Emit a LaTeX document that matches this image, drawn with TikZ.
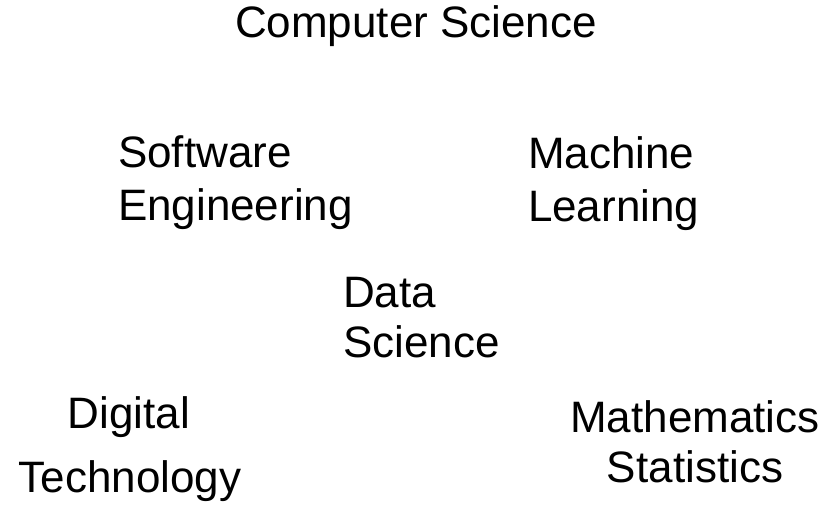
\documentclass[tikz,border=0pt]{standalone}
\usepackage{fontspec}
\setmainfont{Liberation Sans}
\begin{document}
\begin{tikzpicture}[x=1pt,y=-1pt,
  lbl/.style={inner sep=0pt,outer sep=0pt,font=\fontsize{44}{52}\selectfont,text=black}]
\useasboundingbox[fill=white] (0,0) rectangle (833,505);
\node[lbl,anchor=base] (cs) at (416,38) {Computer Science};
\node[lbl,anchor=base west] (se1) at (118,168) {Software};
\node[lbl,anchor=base west] (se2) at (118,221) {Engineering};
\node[lbl,anchor=base west] (ml1) at (528,169) {Machine};
\node[lbl,anchor=base west] (ml2) at (528,222) {Learning};
\node[lbl,anchor=base west] (ds1) at (343,307) {Data};
\node[lbl,anchor=base west] (ds2) at (343,357) {Science};
\node[lbl,anchor=base] (dt1) at (129,428) {Digital};
\node[lbl,anchor=base] (dt2) at (130,492) {Technology};
\node[lbl,anchor=base] (ms1) at (695,432) {Mathematics};
\node[lbl,anchor=base] (ms2) at (695,482) {Statistics};
\end{tikzpicture}
\end{document}
